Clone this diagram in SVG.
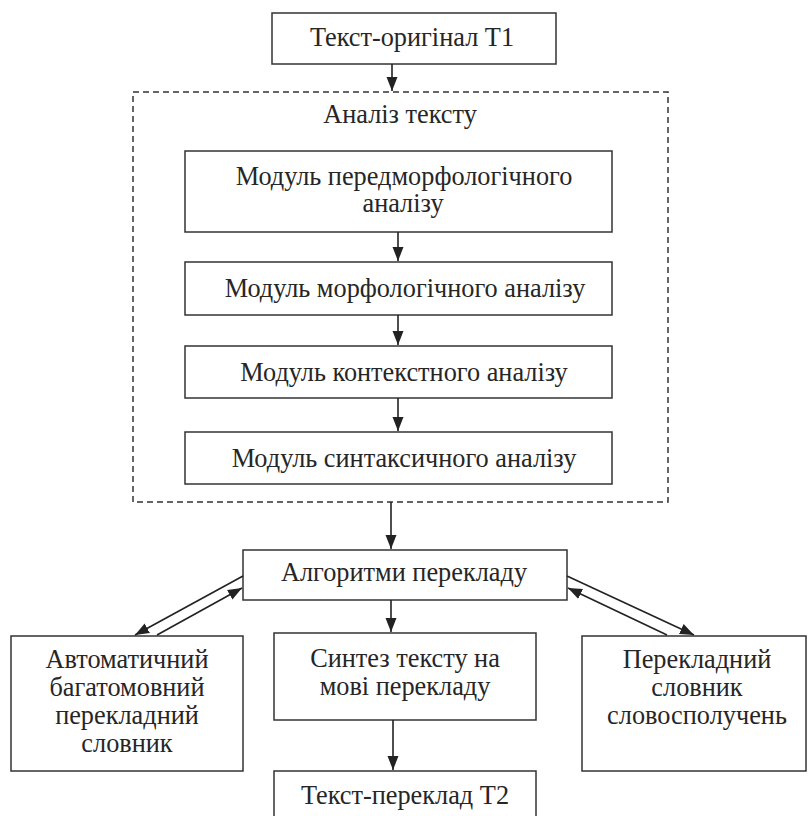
<svg xmlns="http://www.w3.org/2000/svg" width="808" height="816" viewBox="0 0 808 816">
<defs>
<style>
.box{fill:#fff;stroke:#333;stroke-width:1.5}
.dash{fill:none;stroke:#333;stroke-width:1.5;stroke-dasharray:6 4}
.t{font-family:'Liberation Serif','Times New Roman',serif;font-size:26.3px;fill:#262626;text-anchor:middle}
.c{stroke:#222;stroke-width:1.6;fill:none}
</style>
<marker id="ah" viewBox="0 0 14 12" refX="14" refY="6" markerWidth="14" markerHeight="12" markerUnits="userSpaceOnUse" orient="auto">
<path d="M0,0.5 L14,6 L0,11.5 Z" fill="#222"/>
</marker>
</defs>
<rect width="808" height="816" fill="#fff"/>
<g id="analysis">
<rect class="dash" x="133" y="92" width="535" height="410"/>
<text class="t" x="400" y="123">Аналіз тексту</text>
</g>
<g id="t1"><rect class="box" x="272" y="13" width="284" height="51"/><text class="t" x="412" y="46">Текст-оригінал Т1</text></g>
<g id="m1"><rect class="box" x="185" y="151" width="427" height="81"/><text class="t" x="404" y="185">Модуль передморфологічного</text><text class="t" x="403" y="212">аналізу</text></g>
<g id="m2"><rect class="box" x="185" y="262" width="427" height="53"/><text class="t" x="405" y="297">Модуль морфологічного аналізу</text></g>
<g id="m3"><rect class="box" x="185" y="346" width="427" height="52"/><text class="t" x="404" y="381">Модуль контекстного аналізу</text></g>
<g id="m4"><rect class="box" x="185" y="432" width="427" height="52"/><text class="t" x="404" y="467">Модуль синтаксичного аналізу</text></g>
<g id="alg"><rect class="box" x="243" y="550" width="324" height="50"/><text class="t" x="404" y="581">Алгоритми перекладу</text></g>
<g id="synth"><rect class="box" x="274" y="633" width="262" height="87"/><text class="t" x="405" y="667">Синтез тексту на</text><text class="t" x="405" y="695">мові перекладу</text></g>
<g id="t2"><rect class="box" x="274" y="771" width="262" height="50"/><text class="t" x="405" y="804">Текст-переклад Т2</text></g>
<g id="dictA"><rect class="box" x="11" y="636" width="232" height="135"/><text class="t" x="127" y="668">Автоматичний</text><text class="t" x="127" y="696">багатомовний</text><text class="t" x="127" y="724">перекладний</text><text class="t" x="127" y="752">словник</text></g>
<g id="dictB"><rect class="box" x="582" y="636" width="224" height="135"/><text class="t" x="697" y="668">Перекладний</text><text class="t" x="697" y="696">словник</text><text class="t" x="697" y="724">словосполучень</text></g>
<g id="connectors">
<line class="c" x1="392" y1="64" x2="392" y2="91" marker-end="url(#ah)"/>
<line class="c" x1="398" y1="232" x2="398" y2="261" marker-end="url(#ah)"/>
<line class="c" x1="398" y1="315" x2="398" y2="345" marker-end="url(#ah)"/>
<line class="c" x1="398" y1="398" x2="398" y2="431" marker-end="url(#ah)"/>
<line class="c" x1="391" y1="502" x2="391" y2="549" marker-end="url(#ah)"/>
<line class="c" x1="391" y1="600" x2="391" y2="632" marker-end="url(#ah)"/>
<line class="c" x1="393" y1="720" x2="393" y2="770" marker-end="url(#ah)"/>
<line class="c" x1="243" y1="576" x2="135" y2="635" marker-end="url(#ah)"/>
<line class="c" x1="157" y1="635" x2="242" y2="588" marker-end="url(#ah)"/>
<line class="c" x1="567" y1="576" x2="694" y2="635" marker-end="url(#ah)"/>
<line class="c" x1="667" y1="635" x2="568" y2="588" marker-end="url(#ah)"/>
</g>
</svg>
